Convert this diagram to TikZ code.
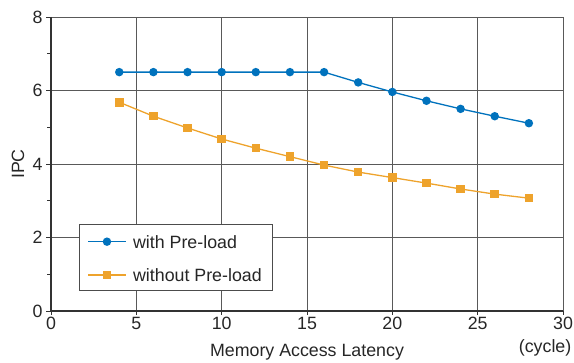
\documentclass[tikz,border=0pt]{standalone}
\usepackage{fontspec}
\setmainfont{Liberation Sans}
\definecolor{withblue}{RGB}{0,114,189}
\definecolor{withoutorange}{RGB}{238,163,44}

\begin{document}
\begin{tikzpicture}[x=17.067pt,y=36.75pt,
      every node/.style={font=\fontsize{17.8}{20}\selectfont,text=black!85},
      grid line/.style={draw=black!65,line width=0.9pt},
      axis line/.style={draw=black!80,line width=1.6pt},
      tick line/.style={draw=black!80,line width=0.9pt},
      with line/.style={draw=withblue,line width=1.3pt},
      without line/.style={draw=withoutorange,line width=1.3pt},
      with mark/.style={circle,fill=withblue,inner sep=0pt,minimum size=8.5pt},
      without mark/.style={rectangle,fill=withoutorange,inner sep=0pt,minimum size=8.5pt}]
      \useasboundingbox (-51pt,-52pt) rectangle (523pt,311pt);
      % grid
      \foreach \x in {5,10,...,30}
        \draw[grid line] (\x,0) -- (\x,8);
      \foreach \y in {2,4,6,8}
        \draw[grid line] (0,\y) -- (30,\y);
      % axes and ticks
      \draw[axis line] (0,8) -- (0,0) -- (30,0);
      \foreach \x in {0,5,...,30}
        \draw[tick line] (\x,0) -- ++(0,-4pt) node[below,inner sep=2pt] (xl\x) {\x};
      \foreach \y in {0,2,...,8}
        \draw[tick line] (0,\y) -- ++(-5pt,0) node[left,inner sep=3pt] (yl\y) {\y};
      \foreach \y in {1,3,...,7}
        \draw[tick line] (0,\y) -- ++(-4pt,0);
      \node[rotate=90] (ylabel) at ([xshift=-33pt]0,4) {IPC};
      \node (xlabel) at ([yshift=-41pt]15,0) {Memory Access Latency};
      \node (unit) at ([yshift=-37pt]28.95,0) {(cycle)};
      % data
      \foreach \x/\v in {4/6.5,6/6.5,8/6.5,10/6.5,12/6.5,14/6.5,16/6.5,
                         18/6.22,20/5.96,22/5.72,24/5.5,26/5.3,28/5.11}
        \coordinate (w\x) at (\x,\v);
      \foreach \x/\v in {4/5.68,6/5.3,8/4.98,10/4.68,12/4.43,14/4.2,16/3.97,
                         18/3.78,20/3.63,22/3.48,24/3.32,26/3.18,28/3.07}
        \coordinate (o\x) at (\x,\v);
      \draw[with line] (w4) -- (w6) -- (w8) -- (w10) -- (w12) -- (w14) -- (w16)
        -- (w18) -- (w20) -- (w22) -- (w24) -- (w26) -- (w28);
      \draw[without line] (o4) -- (o6) -- (o8) -- (o10) -- (o12) -- (o14) -- (o16)
        -- (o18) -- (o20) -- (o22) -- (o24) -- (o26) -- (o28);
      \foreach \x in {4,6,...,28}{
        \node[with mark] (mw\x) at (w\x) {};
        \node[without mark] (mo\x) at (o\x) {};
      }
      % legend
      \draw[fill=white,draw=black!70,line width=0.9pt] (1.64,0.55) rectangle (13.0,2.36);
      \coordinate (lw1) at (2.17,1.886);
      \coordinate (lw2) at (4.39,1.886);
      \coordinate (lo1) at (2.17,0.98);
      \coordinate (lo2) at (4.39,0.98);
      \draw[with line] (lw1) -- (lw2);
      \draw[without line] (lo1) -- (lo2);
      \node[with mark] (lwm) at (3.28,1.886) {};
      \node[without mark] (lom) at (3.28,0.98) {};
      \node[anchor=west,inner sep=0pt] (lwt) at (4.8,1.886) {with Pre-load};
      \node[anchor=west,inner sep=0pt] (lot) at (4.8,0.98) {without Pre-load};
\end{tikzpicture}
\end{document}
